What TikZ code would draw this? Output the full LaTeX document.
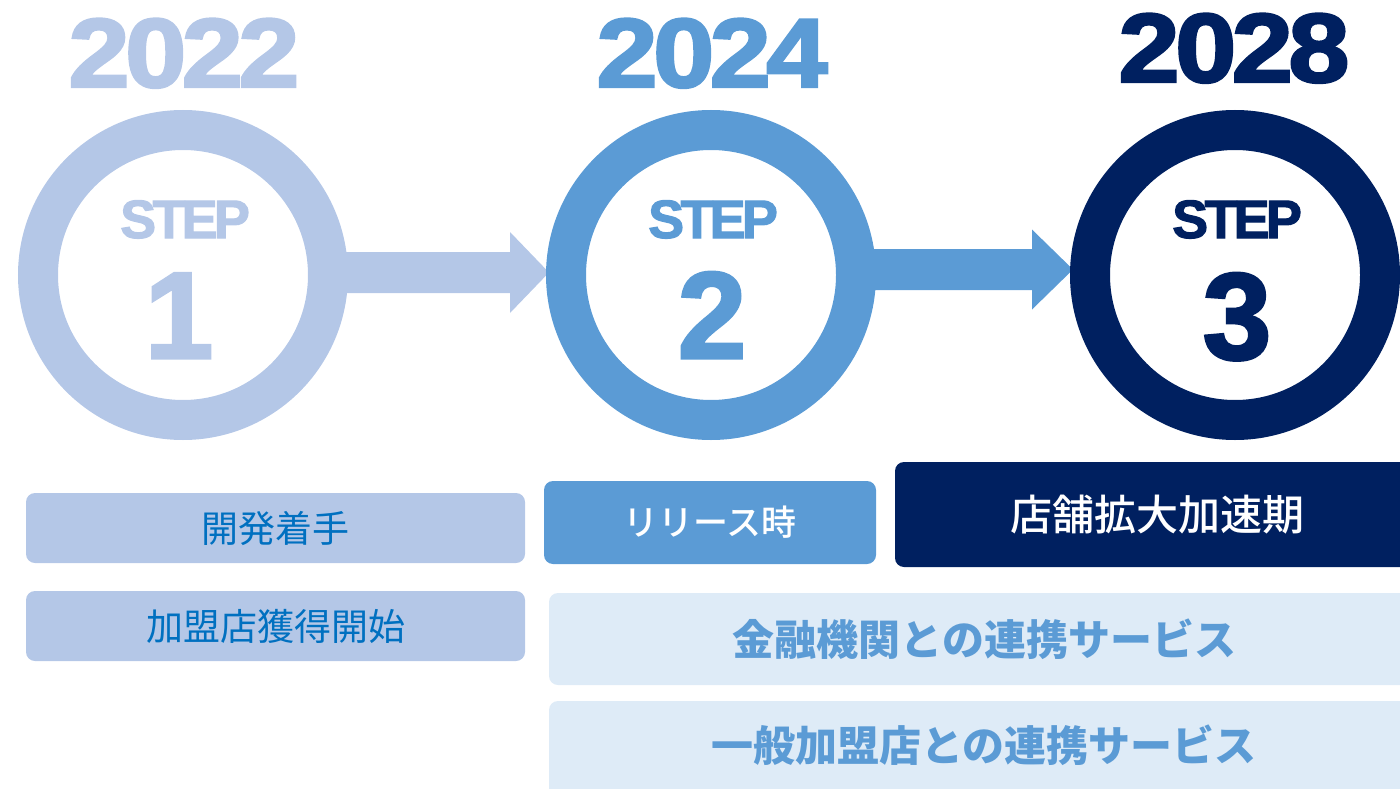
\documentclass[tikz,border=0pt]{standalone}
\usepackage{fontspec}
\usetikzlibrary{calc,backgrounds}
\newfontfamily\heavy{Liberation Sans Bold}[FakeBold=2.5,LetterSpace=-4]
\newfontfamily\heavyst{Liberation Sans Bold}[FakeBold=2,LetterSpace=-7]
\newfontfamily\jp{Noto Sans CJK JP}
\newfontfamily\jpm{Noto Sans CJK JP Medium}
\definecolor{cone}{HTML}{B4C7E7}
\definecolor{ctwo}{HTML}{5B9BD5}
\definecolor{cthree}{HTML}{002060}
\definecolor{pale}{HTML}{DEEBF7}
\definecolor{txtblue}{HTML}{0070C0}
\tikzset{
  ring/.style={circle, draw=#1, line width=40pt, minimum size=290pt, inner sep=0pt},
  year/.style={anchor=base, text=#1, font=\heavy\fontsize{98}{98}\selectfont, inner sep=0pt, xscale=1.12},
  steplbl/.style={anchor=base, text=#1, font=\heavyst\fontsize{54}{54}\selectfont, inner sep=0pt},
  stepnum/.style={anchor=base, text=#1, font=\heavy\fontsize{123}{123}\selectfont, inner sep=0pt},
  box/.style={rounded corners=9pt, fill=#1, inner sep=0pt},
}
\begin{document}
\begin{tikzpicture}[x=1pt,y=-1pt]
\useasboundingbox (0,0) rectangle (1400,789);
% rings
\node[ring=cone] (c1) at (183,275) {};
\node[ring=ctwo] (c2) at (711,275) {};
\node[ring=cthree] (c3) at (1235,275) {};
% arrows
\begin{scope}[on background layer]
\coordinate (s1) at ($(c1.center)+(150,-2.5)$);
\coordinate (t1) at ($(c2.west)+(3,-2.5)$);
\fill[cone] ($(s1)+(0,-20.5)$) -- ($(t1)+(-39,-20.5)$) -- ($(t1)+(-39,-40.5)$) -- (t1)
  -- ($(t1)+(-39,40.5)$) -- ($(t1)+(-39,20.5)$) -- ($(s1)+(0,20.5)$) -- cycle;
\coordinate (s2) at ($(c2.center)+(150,-5.5)$);
\coordinate (t2) at ($(c3.west)+(3,-5.5)$);
\fill[ctwo] ($(s2)+(0,-20.5)$) -- ($(t2)+(-41,-20.5)$) -- ($(t2)+(-41,-40)$) -- (t2)
  -- ($(t2)+(-41,40)$) -- ($(t2)+(-41,20.5)$) -- ($(s2)+(0,20.5)$) -- cycle;
\end{scope}
% years
\node[year=cone] (y1) at (184,87) {2022};
\node[year=ctwo] (y2) at (712,87) {2024};
\node[year=cthree] (y3) at (1234,82) {2028};
% step labels
\node[steplbl=cone] (st1) at (185,238) {STEP};
\node[steplbl=ctwo] (st2) at (713,238) {STEP};
\node[steplbl=cthree] (st3) at (1237,238) {STEP};
\node[stepnum=cone] (n1) at (179,358) {1};
\node[stepnum=ctwo] (n2) at (712,358) {2};
\node[stepnum=cthree] (n3) at (1237,359) {3};
% boxes
\node[box=cone, minimum width=499pt, minimum height=70pt, text=txtblue, font=\jp\fontsize{37}{37}\selectfont] (b1) at (275.5,528) {開発着手};
\node[box=cone, minimum width=499pt, minimum height=70pt, text=txtblue, font=\jp\fontsize{37}{37}\selectfont] (b2) at (275.5,626) {加盟店獲得開始};
\node[box=ctwo, minimum width=332pt, minimum height=83pt, text=white, font=\jpm\fontsize{35}{35}\selectfont] (b3) at (710,522.5) {リリース時};
\node[box=cthree, minimum width=525pt, minimum height=105pt, text=white, font=\jpm\fontsize{42}{42}\selectfont] (b4) at (1157.5,514.5) {店舗拡大加速期};
\node[box=pale, minimum width=871pt, minimum height=92pt, text=ctwo, font=\jp\bfseries\fontsize{42}{42}\selectfont] (b5) at (984.5,639) {金融機関との連携サービス};
\node[box=pale, minimum width=871pt, minimum height=110pt] (b6) at (984.5,756) {};
\node[text=ctwo, font=\jp\bfseries\fontsize{42}{42}\selectfont, inner sep=0pt] (b6t) at (984,745) {一般加盟店との連携サービス};
\end{tikzpicture}
\end{document}
